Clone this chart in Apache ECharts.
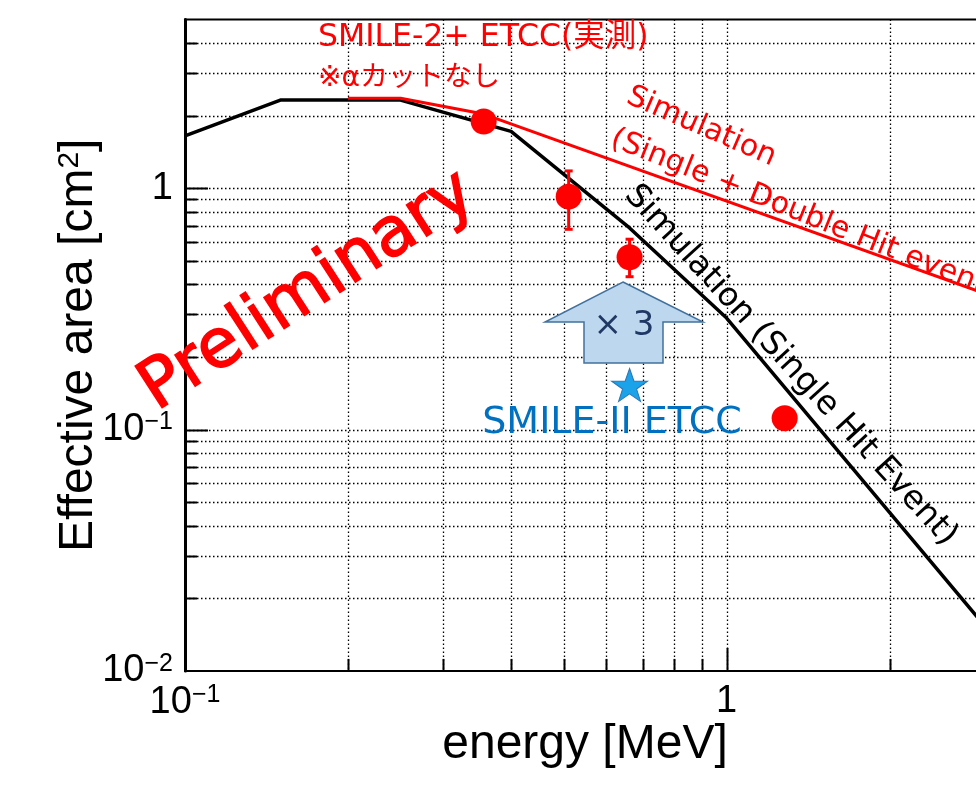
<!DOCTYPE html>
<html>
<head>
<meta charset="utf-8">
<script src="https://cdn.jsdelivr.net/npm/echarts@6/dist/echarts.min.js"></script>
<style>
html, body { margin: 0; padding: 0; background: #fff; }
#chart { width: 976px; height: 791px; }
</style>
</head>
<body>
<div id="chart"></div>
<script>
// Simulated effective area, single-hit events
const simSingleEnergy = [0.1, 0.15, 0.25, 0.4, 0.662, 1.0, 3.0];
const simSingleArea   = [1.65, 2.32, 2.32, 1.72, 0.685, 0.290, 0.0153];
// Simulated effective area, single + double hit events
const simDoubleEnergy = [0.2, 0.25, 0.356, 3.0];
const simDoubleArea   = [2.36, 2.36, 2.03, 0.366];
// Measured SMILE-2+ ETCC points with error ranges
const measEnergy = [0.356, 0.511, 0.662, 1.28];
const measArea   = [1.89, 0.923, 0.518, 0.1114];
const measLow    = [1.80, 0.676, 0.430, 0.106];
const measHigh   = [1.98, 1.18, 0.615, 0.117];
// SMILE-II ETCC point
const smile2Energy = [0.662];
const smile2Area   = [0.153];
// Axis ranges and grid/tick positions
const xRange = [0.1, 3];
const yRange = [0.01, 5];
const xGridValues = [0.2, 0.3, 0.4, 0.5, 0.6, 0.7, 0.8, 0.9, 1, 2];
const yGridValues = [0.02, 0.03, 0.04, 0.05, 0.06, 0.07, 0.08, 0.09, 0.1,
                     0.2, 0.3, 0.4, 0.5, 0.6, 0.7, 0.8, 0.9, 1, 2, 3, 4];
const majorTicks = [0.01, 0.1, 1];

const isMajor = v => majorTicks.some(t => Math.abs(t - v) < 1e-9);

function powLabel(v) {
  const e = Math.log10(v);
  const r = Math.round(e);
  if (Math.abs(e - r) > 1e-6) return '';
  if (r === 0) return '1';
  return '10{sup|' + (r < 0 ? '\u2212' + (-r) : r) + '}';
}

const axisFont = 'Liberation Sans, Arial, Helvetica, sans-serif';
const noteFont = 'DejaVu Sans, Noto Sans CJK JP, sans-serif';
const dotted = { stroke: '#000', lineWidth: 1.3, lineDash: [1.5, 2.5] };

function renderVGrid(params, api) {
  const cs = params.coordSys;
  const x = Math.round(api.coord([api.value(0), yRange[0]])[0]) + 0.5;
  const bottom = cs.y + cs.height;
  const len = isMajor(api.value(0)) ? 23 : 12;
  return { type: 'group', children: [
    { type: 'line', shape: { x1: x, y1: cs.y, x2: x, y2: bottom }, style: dotted },
    { type: 'line', shape: { x1: x, y1: bottom, x2: x, y2: bottom - len }, style: { stroke: '#000', lineWidth: 2 } }
  ]};
}

function renderHGrid(params, api) {
  const cs = params.coordSys;
  const y = Math.round(api.coord([xRange[0], api.value(1)])[1]) + 0.5;
  const len = isMajor(api.value(1)) ? 23 : 12;
  return { type: 'group', children: [
    { type: 'line', shape: { x1: cs.x, y1: y, x2: cs.x + cs.width, y2: y }, style: dotted },
    { type: 'line', shape: { x1: cs.x, y1: y, x2: cs.x + len, y2: y }, style: { stroke: '#000', lineWidth: 2 } }
  ]};
}

function renderErr(params, api) {
  const lo = api.coord([api.value(0), api.value(1)]);
  const hi = api.coord([api.value(0), api.value(2)]);
  const s = { stroke: '#ff0000', lineWidth: 3 };
  return { type: 'group', children: [
    { type: 'line', shape: { x1: lo[0], y1: lo[1], x2: hi[0], y2: hi[1] }, style: s },
    { type: 'line', shape: { x1: lo[0] - 4, y1: lo[1], x2: lo[0] + 4, y2: lo[1] }, style: s },
    { type: 'line', shape: { x1: hi[0] - 4, y1: hi[1], x2: hi[0] + 4, y2: hi[1] }, style: s }
  ]};
}

const zip = (a, b) => a.map((v, i) => [v, b[i]]);

const chart = echarts.init(document.getElementById('chart'), null, { renderer: 'canvas' });

chart.setOption({
  animation: false,
  backgroundColor: '#fff',
  grid: {
    left: 185, top: 19.6, width: 800, height: 651.3,
    outerBoundsMode: 'none', containLabel: false,
    show: true, borderColor: '#000', borderWidth: 2, backgroundColor: 'transparent'
  },
  xAxis: {
    type: 'log', logBase: 10, min: xRange[0], max: xRange[1],
    name: 'energy [MeV]', nameLocation: 'middle', nameGap: 50, nameMoveOverlap: false,
    nameTextStyle: { fontFamily: axisFont, fontSize: 48, color: '#000' },
    axisLine: { show: true, lineStyle: { color: '#000', width: 2 } },
    axisTick: { show: false },
    splitLine: { show: false },
    axisLabel: {
      formatter: powLabel, margin: 12, interval: 0, showMinLabel: true, showMaxLabel: true,
      fontFamily: axisFont, fontSize: 38, color: '#000',
      rich: { sup: { fontFamily: axisFont, fontSize: 25, color: '#000', verticalAlign: 'top', padding: [0, 0, 14, 0] } }
    }
  },
  yAxis: {
    type: 'log', logBase: 10, min: yRange[0], max: yRange[1],
    name: 'Effective area [cm{sup|2}]', nameLocation: 'middle', nameGap: 82, nameMoveOverlap: false,
    nameTextStyle: {
      fontFamily: axisFont, fontSize: 48, color: '#000',
      rich: { sup: { fontFamily: axisFont, fontSize: 30, color: '#000', verticalAlign: 'top', padding: [0, 0, 18, 0] } }
    },
    axisLine: { show: true, lineStyle: { color: '#000', width: 3 } },
    axisTick: { show: false },
    splitLine: { show: false },
    axisLabel: {
      formatter: powLabel, margin: 12, showMinLabel: true, showMaxLabel: true,
      fontFamily: axisFont, fontSize: 38, color: '#000',
      rich: { sup: { fontFamily: axisFont, fontSize: 25, color: '#000', verticalAlign: 'top', padding: [0, 0, 14, 0] } }
    }
  },
  series: [
    { type: 'custom', renderItem: renderVGrid, data: xGridValues.map(v => [v, yRange[0]]), z: 1, silent: true },
    { type: 'custom', renderItem: renderHGrid, data: yGridValues.map(v => [xRange[0], v]), z: 1, silent: true },
    {
      name: 'Simulation (Single Hit Event)', type: 'line', data: zip(simSingleEnergy, simSingleArea),
      showSymbol: false, lineStyle: { color: '#000', width: 3.5 }, z: 3
    },
    {
      name: 'Simulation (Single + Double Hit event)', type: 'line', data: zip(simDoubleEnergy, simDoubleArea),
      showSymbol: false, lineStyle: { color: '#ff0000', width: 3 }, z: 4
    },
    {
      type: 'custom', renderItem: renderErr, z: 5,
      data: measEnergy.map((e, i) => [e, measLow[i], measHigh[i]]),
      encode: { x: 0, y: [1, 2] }
    },
    {
      name: 'SMILE-2+ ETCC', type: 'scatter', data: zip(measEnergy, measArea),
      symbol: 'circle', symbolSize: 26, itemStyle: { color: '#ff0000', opacity: 1 }, z: 6
    },
    {
      name: 'SMILE-II ETCC', type: 'scatter', data: zip(smile2Energy, smile2Area),
      symbol: 'path://M50,0 L61.8,35.1 L98.1,35.1 L68.7,56.8 L79.4,91.4 L50,70 L20.6,91.4 L31.3,56.8 L1.9,35.1 L38.2,35.1 Z',
      symbolSize: [36, 33], itemStyle: { color: '#1aa3e8', borderColor: '#2e75b6', borderWidth: 1, opacity: 1 }, z: 6
    }
  ],
  graphic: [
    { type: 'text', x: 318, y: 38, z: 100,
      style: { text: 'SMILE-2+ ETCC(実測)', fill: '#ff0000', fontFamily: noteFont, fontSize: 31.5, align: 'left', verticalAlign: 'middle' } },
    { type: 'text', x: 318, y: 79, z: 100,
      style: { text: '※αカットなし', fill: '#ff0000', fontFamily: noteFont, fontSize: 28, align: 'left', verticalAlign: 'middle' } },
    { type: 'text', x: 308, y: 292, rotation: 0.575, z: 100,
      style: { text: 'Preliminary', fill: '#ff0000', stroke: '#ff0000', lineWidth: 1.5, fontFamily: noteFont, fontSize: 68, align: 'center', verticalAlign: 'middle' } },
    { type: 'text', x: 628, y: 95, rotation: -0.41, z: 100,
      style: { text: 'Simulation', fill: '#ff0000', fontFamily: noteFont, fontSize: 30, align: 'left', verticalAlign: 'middle' } },
    { type: 'text', x: 612, y: 138, rotation: -0.38, z: 100,
      style: { text: '(Single + Double Hit event)', fill: '#ff0000', fontFamily: noteFont, fontSize: 30, align: 'left', verticalAlign: 'middle' } },
    { type: 'text', x: 630, y: 190, rotation: -0.83, z: 100,
      style: { text: 'Simulation (Single Hit Event)', fill: '#000', fontFamily: noteFont, fontSize: 33, align: 'left', verticalAlign: 'middle' } },
    { type: 'polygon', z: 90,
      shape: { points: [[623, 282], [703, 322], [663, 322], [663, 363], [584, 363], [584, 322], [545, 322]] },
      style: { fill: '#bdd7ee', stroke: '#41719c', lineWidth: 1.5 } },
    { type: 'text', x: 624, y: 326, z: 100,
      style: { text: '× 3', fill: '#1f3864', fontFamily: noteFont, fontSize: 34, align: 'center', verticalAlign: 'middle' } },
    { type: 'text', x: 612, y: 423, z: 100,
      style: { text: 'SMILE-II ETCC', fill: '#0070c0', fontFamily: noteFont, fontSize: 38, align: 'center', verticalAlign: 'middle' } }
  ]
});
</script>
</body>
</html>
